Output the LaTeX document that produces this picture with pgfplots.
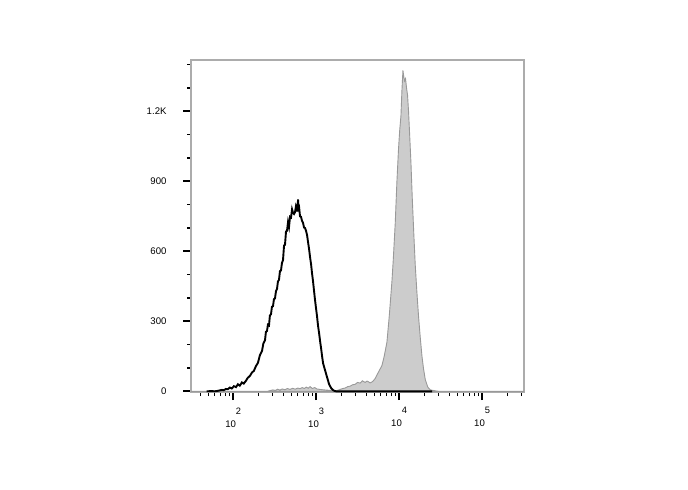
\documentclass[border=0pt]{standalone}
\usepackage{pgfplots}
\pgfplotsset{compat=1.18}
\usepackage{fontspec}
\setmainfont{Liberation Sans}
\newcommand\dec[1]{10\raisebox{13bp}{\fontsize{9.3bp}{10bp}\selectfont #1}}

\begin{document}
\begin{tikzpicture}
\useasboundingbox (-191bp,-98bp) rectangle (497bp,392bp);
\begin{axis}[
    scale only axis,
    width=333bp, height=332bp,
    xmode=log,
    xmin=31, xmax=3.2e5,
    ymin=-3, ymax=1420,
    axis line style={gray!65, line width=1.2bp},
    tick align=outside,
    xtick pos=bottom, ytick pos=left,
    xtick={100,1000,10000,100000},
    xticklabels={\dec{2},\dec{3},\dec{4},\dec{5}},
    minor xtick={40,50,60,70,80,90,200,300,400,500,600,700,800,900,
        2000,3000,4000,5000,6000,7000,8000,9000,
        20000,30000,40000,50000,60000,70000,80000,90000,200000,300000},
    ytick={0,300,600,900,1200},
    yticklabels={0,300,600,900,1.2K},
    minor ytick={100,200,400,500,700,800,1000,1100,1300,1400},
    major tick length=8bp, minor tick length=4bp,
    major tick style={black, line width=1.7bp},
    minor tick style={black, line width=1.1bp},
    tick label style={font=\fontsize{9.6bp}{11bp}\selectfont},
    yticklabel style={xshift=-13bp},
    xticklabel style={yshift=-4bp},
    clip=true,
]

% stained sample (filled, grey)
\addplot[fill=gray!40, draw=gray!80, line width=0.9bp] coordinates {
(31,0) (260,0) (277.5,3) (300,6) (322,4) (345,9) (366.4,5) (390,10) (420,7)
(450,12) (483.9,8) (520,13) (560,9) (600,14) (639,11) (680,16) (720,12)
(760,18) (800,13) (843.9,20) (900,12) (960,16) (1020,10) (1114.7,8)
(1250,6) (1472,4) (1600,3) (1774,3) (1944,8) (2100,12) (2234,14) (2400,20)
(2567,22) (2750,28) (2950,30) (3150,38) (3390,35) (3600,45) (3896,38)
(4100,44) (4300,40) (4477,36) (4800,42) (5145,55) (5592,80) (6199,110)
(6607,150) (7125,210) (7594,320) (8185,470) (8486,560) (8973,720)
(9406,900) (9835,1040) (10167,1120) (10513,1180) (10810,1290) (11115,1375)
(11366,1350) (11620,1330) (11947,1340) (12284,1300) (12628,1270)
(12985,1200) (13352,1110) (13881,980) (14392,830) (15006,680) (15645,540)
(16406,420) (17151,320) (17981,230) (18855,150) (19713,95) (20670,50)
(22149,18) (23750,6) (27290,2) (30000,0) (320000,0)
} \closedcycle;

% isotype control (black line)
\addplot[black, line width=1.9bp] coordinates {
(47.8,0) (55,1) (60,0) (65.3,2) (69,4) (73,6) (77,5) (81.6,10) (86,9)
(91.2,16) (96,12) (102,22) (108,18) (114,30) (120,24) (127.4,38) (134,33)
(142.4,45) (150,58) (159.1,66) (168,80) (177.8,88) (188,108) (198.7,122)
(210,155) (222.2,172) (231,205) (241.5,218) (248,255) (255.3,258) (262,285)
(269.9,282) (277,325) (285.4,330) (293,362) (301.7,365) (310,395)
(318.9,398) (328,430) (337.2,438) (346,470) (356.4,478) (366,515)
(376.9,518) (387,550) (398.4,562) (410,625) (421.2,628) (433,685)
(445.3,688) (458,725) (470.7,705) (484,748) (497.6,745) (512,780)
(526.1,765) (541,760) (556.2,768) (572,795) (588,785) (596,770) (604.5,822)
(613,790) (621.5,792) (639,750) (657,748) (676,730) (694.7,722) (714,702)
(734.3,700) (755,688) (776.5,670) (798,640) (821,610) (844,575) (867.9,545)
(892,505) (917.6,470) (943,430) (969.8,390) (997,355) (1025.4,320)
(1054,280) (1084,250) (1115,215) (1146,185) (1179,150) (1212,120)
(1246,105) (1281,90) (1317,75) (1354,60) (1393,45) (1432,30) (1473,22)
(1514,14) (1557,9) (1600,5) (1660,2) (1739,0) (25000,0)
};
\end{axis}
\end{tikzpicture}
\end{document}
